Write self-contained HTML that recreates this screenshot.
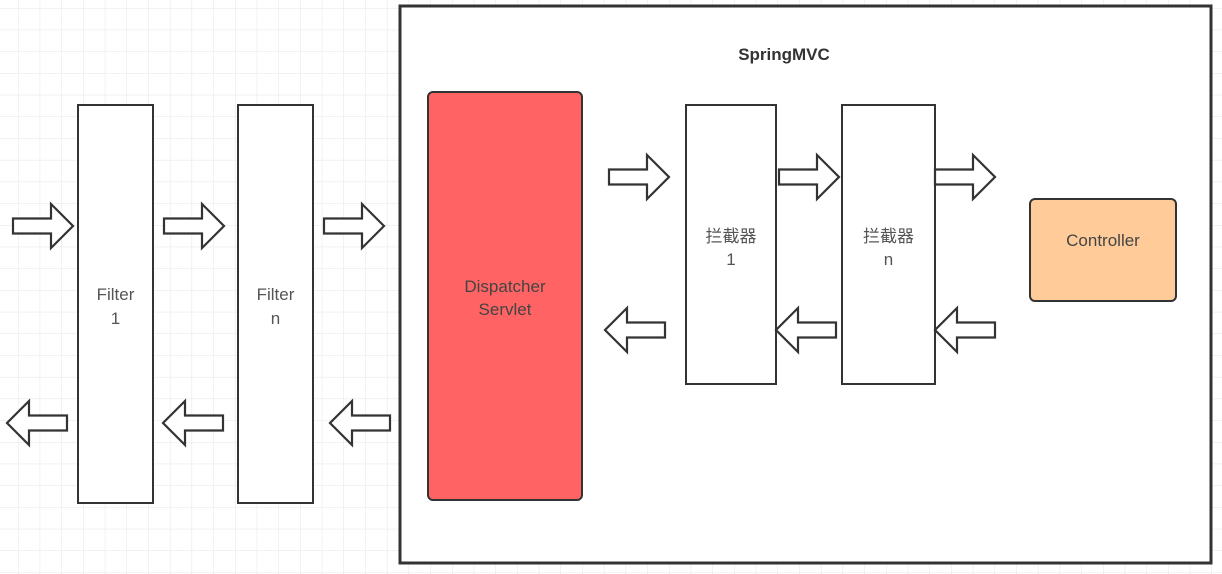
<!DOCTYPE html>
<html><head><meta charset="utf-8"><style>
html,body{margin:0;padding:0;background:#fff;}
svg{display:block;}
text{font-family:"Liberation Sans","Noto Sans CJK SC",sans-serif;fill:#555;font-size:17px;}
</style></head><body>
<svg width="1222" height="574" viewBox="0 0 1222 574" xmlns="http://www.w3.org/2000/svg">
<defs>
<pattern id="g" width="21.7" height="21.7" patternUnits="userSpaceOnUse" x="18" y="8">
<path d="M0 0H21.7M0 0V21.7" stroke="#e4e4e4" stroke-width="1" fill="none"/>
</pattern>
<g id="ra"><path d="M0 -7.5H38V-22L60 0L38 22V7.5H0Z" fill="#fff" stroke="#333" stroke-width="2.2" stroke-linejoin="miter"/></g>
<g id="la"><path d="M60 -7.5H22V-22L0 0L22 22V7.5H60Z" fill="#fff" stroke="#333" stroke-width="2.2"/></g>
</defs>
<rect width="1222" height="574" fill="url(#g)"/>
<rect x="400" y="6" width="811" height="557" fill="#fff" stroke="#333" stroke-width="3"/>
<text x="784" y="60" text-anchor="middle" style="font-weight:bold;fill:#333;font-size:17px">SpringMVC</text>

<rect x="78" y="105" width="75" height="398" fill="#fff" stroke="#333" stroke-width="2"/>
<text x="115.5" y="300" text-anchor="middle">Filter</text>
<text x="115.5" y="324" text-anchor="middle">1</text>
<rect x="238" y="105" width="75" height="398" fill="#fff" stroke="#333" stroke-width="2"/>
<text x="275.5" y="300" text-anchor="middle">Filter</text>
<text x="275.5" y="324" text-anchor="middle">n</text>

<rect x="428" y="92" width="154" height="408" rx="5" fill="#ff6363" stroke="#333" stroke-width="2"/>
<text x="505" y="292" text-anchor="middle" style="fill:#444">Dispatcher</text>
<text x="505" y="315" text-anchor="middle" style="fill:#444">Servlet</text>

<rect x="686" y="105" width="90" height="279" fill="#fff" stroke="#333" stroke-width="2"/>
<text x="731" y="242" text-anchor="middle">拦截器</text>
<text x="731" y="265" text-anchor="middle">1</text>
<rect x="842" y="105" width="93" height="279" fill="#fff" stroke="#333" stroke-width="2"/>
<text x="888.5" y="242" text-anchor="middle">拦截器</text>
<text x="888.5" y="265" text-anchor="middle">n</text>

<rect x="1030" y="199" width="146" height="102" rx="5" fill="#ffcc99" stroke="#333" stroke-width="2"/>
<text x="1103" y="246" text-anchor="middle" style="fill:#444">Controller</text>

<use href="#ra" x="13" y="226"/>
<use href="#ra" x="164" y="226"/>
<use href="#ra" x="324" y="226"/>
<use href="#la" x="7" y="423"/>
<use href="#la" x="163" y="423"/>
<use href="#la" x="330" y="423"/>
<use href="#ra" x="609" y="177"/>
<use href="#ra" x="779" y="177"/>
<use href="#ra" x="935" y="177"/>
<use href="#la" x="605" y="330"/>
<use href="#la" x="776" y="330"/>
<use href="#la" x="935" y="330"/>
</svg>
</body></html>
